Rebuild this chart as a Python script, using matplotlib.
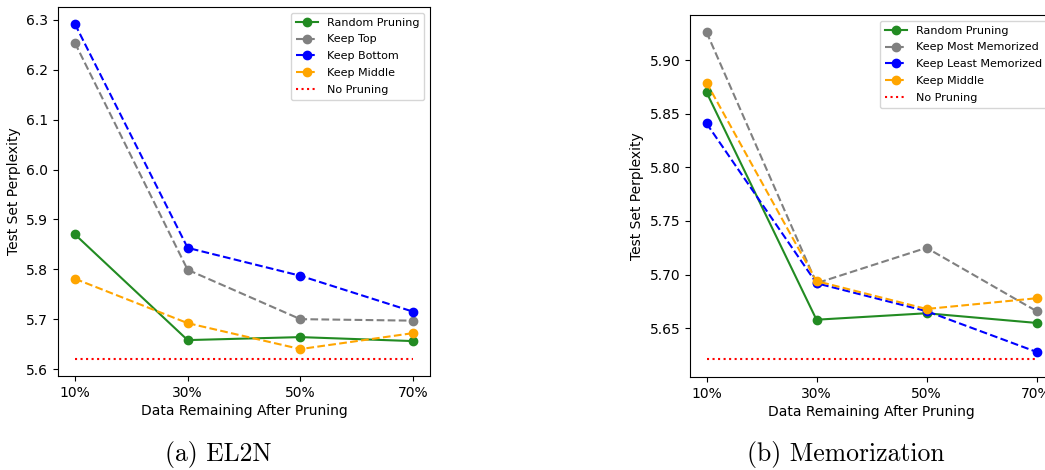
import matplotlib
matplotlib.use("Agg")
import matplotlib.pyplot as plt

x_labels = ["10%", "30%", "50%", "70%"]

# (a) EL2N
el2n_random = [5.870, 5.658, 5.664, 5.656]
el2n_top = [6.254, 5.799, 5.700, 5.697]
el2n_bottom = [6.292, 5.843, 5.787, 5.715]
el2n_middle = [5.781, 5.692, 5.640, 5.672]
el2n_none = 5.621

# (b) Memorization
mem_random = [5.870, 5.658, 5.664, 5.655]
mem_most = [5.926, 5.692, 5.725, 5.666]
mem_least = [5.841, 5.692, 5.666, 5.628]
mem_middle = [5.879, 5.694, 5.668, 5.678]
mem_none = 5.621

W, H = 1045, 470
fig = plt.figure(figsize=(W / 100, H / 100), dpi=100)

def ax_rect(l, r, t, b):
    return [l / W, (H - b) / H, (r - l) / W, (b - t) / H]

ax1 = fig.add_axes(ax_rect(58, 430, 7, 376))
ax2 = fig.add_axes(ax_rect(690, 1053, 15, 377))

xi = list(range(len(x_labels)))

def draw(ax, series, labels, none_val):
    styles = [("forestgreen", "-"), ("gray", "--"), ("blue", "--"), ("orange", "--")]
    for vals, lab, (c, ls) in zip(series, labels, styles):
        ax.plot(xi, vals, color=c, linestyle=ls, marker="o", markersize=6,
                linewidth=1.5, label=lab)
    ax.plot(xi, [none_val] * len(xi), color="red", linestyle=":", linewidth=1.5,
            label="No Pruning")
    ax.set_xticks(xi)
    ax.set_xticklabels(x_labels, fontsize=10)
    ax.tick_params(axis="y", labelsize=10)
    ax.set_xlabel("Data Remaining After Pruning", fontsize=10, labelpad=3)
    ax.set_ylabel("Test Set Perplexity", fontsize=10)

draw(ax1, [el2n_random, el2n_top, el2n_bottom, el2n_middle],
     ["Random Pruning", "Keep Top", "Keep Bottom", "Keep Middle"], el2n_none)
ax1.set_ylim(5.586, 6.326)
ax1.set_yticks([5.6, 5.7, 5.8, 5.9, 6.0, 6.1, 6.2, 6.3])
ax1.legend(loc="upper right", fontsize=8, handlelength=2.0,
           borderpad=0.45, labelspacing=0.62)

draw(ax2, [mem_random, mem_most, mem_least, mem_middle],
     ["Random Pruning", "Keep Most Memorized", "Keep Least Memorized", "Keep Middle"],
     mem_none)
ax2.set_ylim(5.6046, 5.942)
ax2.set_yticks([5.65, 5.70, 5.75, 5.80, 5.85, 5.90])
ax2.set_yticklabels(["5.65", "5.70", "5.75", "5.80", "5.85", "5.90"])
ax2.legend(loc="upper right", fontsize=8, handlelength=2.0,
           borderpad=0.45, labelspacing=0.62)

fig.text(218 / W, 1 - 454 / H, "(a) EL2N", family="cmr10", fontsize=18.5,
         ha="center", va="center")
fig.text(846 / W, 1 - 454 / H, "(b) Memorization", family="cmr10", fontsize=18.5,
         ha="center", va="center")

fig.savefig("out.png", dpi=100)
